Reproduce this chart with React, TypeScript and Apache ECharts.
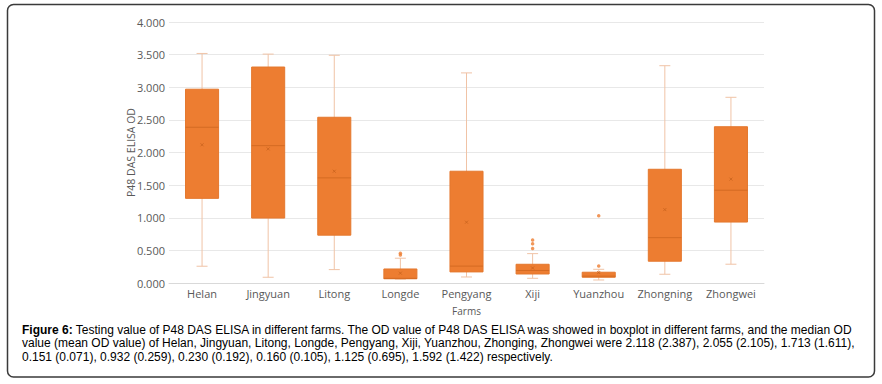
import React, { useEffect, useRef } from "react";
import * as echarts from "echarts";

const categories = ["Helan", "Jingyuan", "Litong", "Longde", "Pengyang", "Xiji", "Yuanzhou", "Zhongning", "Zhongwei"];
const whiskerLow = [0.257, 0.088, 0.205, 0.06, 0.092, 0.072, 0.046, 0.134, 0.288];
const q1 = [1.297, 0.995, 0.733, 0.065, 0.17, 0.138, 0.088, 0.334, 0.934];
const median = [2.387, 2.105, 1.611, 0.071, 0.259, 0.192, 0.105, 0.695, 1.422];
const q3 = [2.97, 3.31, 2.54, 0.215, 1.713, 0.287, 0.165, 1.743, 2.395];
const whiskerHigh = [3.518, 3.508, 3.49, 0.38, 3.22, 0.45, 0.21, 3.33, 2.846];
const means = [2.118, 2.055, 1.713, 0.151, 0.932, 0.23, 0.16, 1.125, 1.592];
const outlierCats = ["Longde", "Longde", "Xiji", "Xiji", "Xiji", "Yuanzhou", "Yuanzhou"];
const outlierVals = [0.457, 0.43, 0.66, 0.6, 0.528, 1.03, 0.26];

const captionLines = [
  "{b|Figure 6:} Testing value of P48 DAS ELISA in different farms. The OD value of P48 DAS ELISA was showed in boxplot in different farms, and the median OD",
  "value (mean OD value) of Helan, Jingyuan, Litong, Longde, Pengyang, Xiji, Yuanzhou, Zhonging, Zhongwei were 2.118 (2.387), 2.055 (2.105), 1.713 (1.611),",
  "0.151 (0.071), 0.932 (0.259), 0.230 (0.192), 0.160 (0.105), 1.125 (0.695), 1.592 (1.422) respectively.",
];

const ORANGE = "#ED7D31";
const WHISKER = "#F0C3A6";
const MEDIAN = "#D46A22";
const AXIS_TEXT = "#595959";
const FONT = "'Open Sans', sans-serif";
const CAPTION_FONT = "'Liberation Sans', Arial, sans-serif";

export default function App() {
  const ref = useRef<HTMLDivElement>(null);
  useEffect(() => {
    if (!ref.current) return;
    const chart = echarts.init(ref.current, null, { renderer: "svg" });
    const boxData = categories.map((_, i) => [i, whiskerLow[i], q1[i], median[i], q3[i], whiskerHigh[i], means[i]]);
    const outlierData = outlierCats.map((c, i) => [categories.indexOf(c), outlierVals[i]]);
    chart.setOption({
      animation: false,
      backgroundColor: "#ffffff",
      grid: { left: 169, right: 118, top: 22, bottom: 101, containLabel: false },
      xAxis: {
        type: "category",
        data: categories,
        axisTick: { show: false },
        axisLine: { lineStyle: { color: "#D9D9D9" } },
        axisLabel: { color: AXIS_TEXT, fontSize: 11, fontFamily: FONT, margin: 5, interval: 0 },
        name: "Farms",
        nameLocation: "middle",
        nameGap: 23,
        nameTextStyle: { color: AXIS_TEXT, fontSize: 10, fontFamily: FONT },
      },
      yAxis: {
        type: "value",
        min: 0,
        max: 4,
        interval: 0.5,
        axisLine: { show: false },
        axisTick: { show: false },
        splitLine: { lineStyle: { color: "#E8E8E8" } },
        axisLabel: { color: AXIS_TEXT, fontSize: 11, fontFamily: FONT, margin: 4, formatter: (v: number) => v.toFixed(3) },
        name: "P48 DAS ELISA OD",
        nameLocation: "middle",
        nameGap: 33,
        nameMoveOverlap: false,
        nameTextStyle: { color: AXIS_TEXT, fontSize: 10.5, fontFamily: FONT },
      },
      series: [
        {
          type: "custom",
          data: boxData,
          z: 3,
          renderItem: (params: any, api: any) => {
            const i = api.value(0);
            const x = api.coord([i, 0])[0];
            const band = api.size([1, 0])[0];
            const w = band * 0.5;
            const yl = api.coord([i, api.value(1)])[1];
            const yq1 = api.coord([i, api.value(2)])[1];
            const ym = api.coord([i, api.value(3)])[1];
            const yq3 = api.coord([i, api.value(4)])[1];
            const yh = api.coord([i, api.value(5)])[1];
            const ymean = api.coord([i, api.value(6)])[1];
            const cap = 5.5;
            return {
              type: "group",
              children: [
                { type: "line", shape: { x1: x, y1: yl, x2: x, y2: yh }, style: { stroke: WHISKER, lineWidth: 1 } },
                { type: "line", shape: { x1: x - cap, y1: yl, x2: x + cap, y2: yl }, style: { stroke: WHISKER, lineWidth: 1 } },
                { type: "line", shape: { x1: x - cap, y1: yh, x2: x + cap, y2: yh }, style: { stroke: WHISKER, lineWidth: 1 } },
                { type: "rect", shape: { x: x - w / 2, y: yq3, width: w, height: yq1 - yq3 }, style: { fill: ORANGE, stroke: "#E4782E", lineWidth: 1 } },
                { type: "line", shape: { x1: x - w / 2, y1: ym, x2: x + w / 2, y2: ym }, style: { stroke: MEDIAN, lineWidth: 1 } },
                { type: "line", shape: { x1: x - 1.5, y1: ymean - 1.5, x2: x + 1.5, y2: ymean + 1.5 }, style: { stroke: "#C8621D", lineWidth: 0.8 } },
                { type: "line", shape: { x1: x - 1.5, y1: ymean + 1.5, x2: x + 1.5, y2: ymean - 1.5 }, style: { stroke: "#C8621D", lineWidth: 0.8 } },
              ],
            };
          },
        },
        {
          type: "scatter",
          data: outlierData,
          symbol: "circle",
          symbolSize: 3.5,
          itemStyle: { color: ORANGE },
          z: 4,
        },
      ],
      graphic: [
        {
          type: "rect",
          shape: { x: 7.5, y: 4.5, width: 867, height: 372.5, r: 6 },
          style: { fill: "none", stroke: "#3A3A3A", lineWidth: 1.5 },
          silent: true,
        },
        {
          type: "text",
          x: 22,
          y: 323,
          style: {
            text: captionLines.join("\n"),
            fill: "#000000",
            fontSize: 12,
            fontFamily: CAPTION_FONT,
            lineHeight: 13.5,
            rich: {
              b: { fontWeight: "bold", fontSize: 12, fontFamily: CAPTION_FONT, lineHeight: 13.5, fill: "#000000" },
            },
          },
          silent: true,
        },
      ],
    });
    return () => chart.dispose();
  }, []);
  return <div ref={ref} style={{ position: "absolute", left: 0, top: 0, width: 882, height: 384, background: "#fff" }} />;
}
